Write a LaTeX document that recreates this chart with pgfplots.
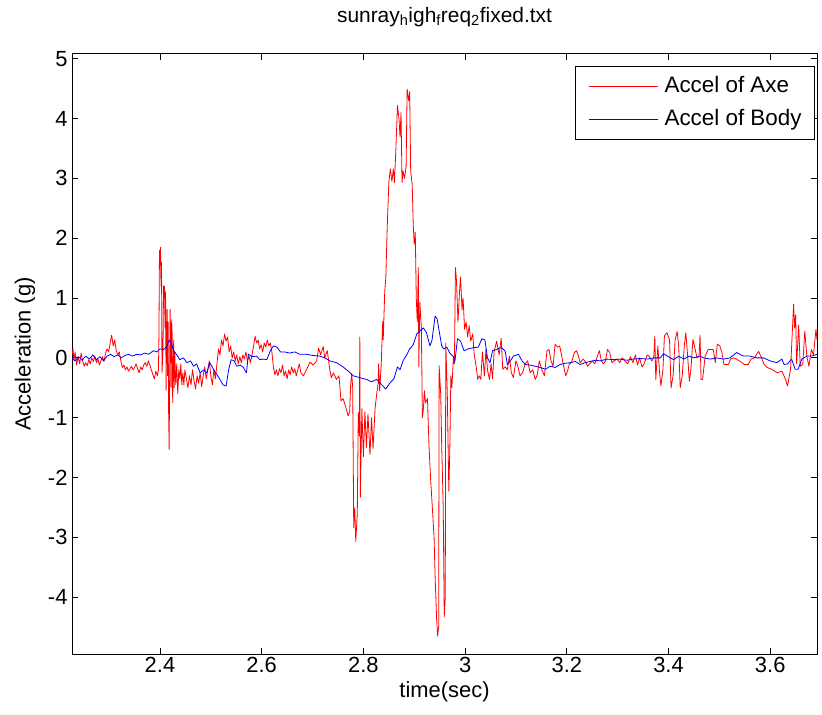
\documentclass[border=0pt]{standalone}
\usepackage{fontspec}
\setmainfont{Liberation Sans}
\usepackage{pgfplots}
\pgfplotsset{compat=1.18}
\begin{document}
\begin{tikzpicture}
\begin{axis}[
  scale only axis, width=745bp, height=600bp,
  xmin=2.227, xmax=3.692, ymin=-4.95, ymax=5.08,
  xtick={2.4,2.6,2.8,3,3.2,3.4,3.6},
  xticklabels={2.4,2.6,2.8,3,3.2,3.4,3.6},
  ytick={-4,-3,-2,-1,0,1,2,3,4,5},
  yticklabels={-4,-3,-2,-1,0,1,2,3,4,5},
  tick align=inside, major tick length=6bp,
  every tick/.style={black, line width=0.8bp},
  axis line style={line width=1bp},
  ticklabel style={font=\fontsize{22}{26}\selectfont},
  yticklabel style={xshift=-1bp},
  label style={font=\fontsize{22}{26}\selectfont},
  xlabel style={at={(rel axis cs:0.5,0)}, anchor=center, yshift=-38bp},
  ylabel style={at={(rel axis cs:0,0.5)}, anchor=center, yshift=47bp},
  title style={font=\fontsize{21}{25}\selectfont, at={(rel axis cs:0.5,1)}, anchor=center, yshift=31bp},
  title={sunray\textsubscript{h}igh\textsubscript{f}req\textsubscript{2}fixed.txt},
  xlabel={time(sec)}, ylabel={Acceleration (g)},
  legend style={at={(1,1)}, anchor=north east, xshift=-2bp, yshift=-12bp,
    font=\fontsize{22.5}{26}\selectfont, draw=black, line width=0.8bp,
    nodes={inner sep=0pt, text height=16bp, text depth=4bp},
    inner xsep=13bp, inner ysep=10bp, row sep=13bp, column sep=6bp},
  legend cell align=left,
  legend image code/.code={\draw[#1, line width=1bp] (0bp,0bp) -- (69bp,0bp);},
]
\addplot[red, line width=0.8bp, line join=round] coordinates {
(2.227,0.05)(2.229,0.15)(2.231,-0.05)(2.233,0.10)(2.236,-0.12)(2.239,0.02)(2.242,-0.10)(2.245,0.08)(2.248,-0.05)(2.251,-0.14)(2.254,-0.08)(2.257,-0.13)(2.260,-0.03)(2.263,-0.10)(2.266,0.00)(2.269,-0.06)(2.272,0.03)(2.275,-0.08)(2.278,-0.02)(2.281,-0.12)(2.284,-0.04)(2.287,0.02)(2.290,-0.06)(2.293,0.08)(2.296,0.15)(2.299,0.10)(2.302,0.25)(2.305,0.38)(2.308,0.20)(2.311,0.30)(2.314,0.12)(2.317,0.05)(2.320,0.10)(2.323,-0.05)(2.326,-0.16)(2.329,-0.12)(2.332,-0.20)(2.335,-0.15)(2.338,-0.22)(2.341,-0.18)(2.344,-0.14)(2.347,-0.20)(2.350,-0.16)(2.353,-0.10)(2.356,-0.18)(2.359,-0.25)(2.362,-0.15)(2.365,-0.20)(2.368,-0.12)(2.371,-0.08)(2.374,-0.14)(2.377,-0.05)(2.380,-0.12)(2.383,-0.20)(2.386,-0.28)(2.389,-0.35)(2.392,-0.22)(2.395,-0.30)(2.397,-0.20)(2.398,0.4)(2.399,1.80)(2.400,1.55)(2.401,1.85)(2.402,1.2)(2.403,1.6)(2.404,-0.25)(2.405,-0.05)(2.406,0.2)(2.407,1.2)(2.408,1.0)(2.409,1.2)(2.410,0.5)(2.411,1.1)(2.412,-0.55)(2.413,0.3)(2.414,0.81)(2.415,-0.3)(2.416,0.6)(2.417,-0.9)(2.418,-1.53)(2.419,-0.4)(2.420,0.81)(2.421,0.3)(2.422,-0.5)(2.423,0.64)(2.424,0.4)(2.425,-0.75)(2.426,-0.2)(2.427,0.3)(2.428,-0.5)(2.429,0.1)(2.431,-0.45)(2.433,-0.1)(2.435,-0.6)(2.437,-0.2)(2.439,-0.35)(2.441,-0.1)(2.443,-0.45)(2.445,-0.25)(2.447,-0.45)(2.449,-0.2)(2.452,-0.35)(2.455,-0.5)(2.458,-0.3)(2.461,-0.45)(2.464,-0.2)(2.467,-0.38)(2.470,-0.52)(2.473,-0.3)(2.476,-0.42)(2.479,-0.25)(2.482,-0.48)(2.485,-0.3)(2.488,-0.15)(2.491,-0.35)(2.494,-0.2)(2.497,-0.05)(2.500,-0.3)(2.503,-0.45)(2.506,-0.2)(2.509,-0.35)(2.512,-0.1)(2.515,0.15)(2.518,0.05)(2.521,0.3)(2.524,0.2)(2.527,0.4)(2.530,0.28)(2.533,0.35)(2.536,0.1)(2.539,0.2)(2.542,0.0)(2.545,0.1)(2.548,-0.05)(2.551,0.05)(2.554,-0.1)(2.557,0.02)(2.560,-0.08)(2.563,0.05)(2.566,-0.02)(2.569,0.1)(2.572,-0.05)(2.575,0.03)(2.578,-0.08)(2.581,0.05)(2.584,0.2)(2.587,0.36)(2.590,0.25)(2.593,0.3)(2.596,0.15)(2.599,0.22)(2.602,0.1)(2.605,0.25)(2.608,0.18)(2.611,0.3)(2.614,0.2)(2.617,0.25)(2.620,0.1)(2.623,-0.15)(2.626,-0.28)(2.629,-0.2)(2.632,-0.3)(2.635,-0.18)(2.638,-0.25)(2.641,-0.12)(2.644,-0.3)(2.647,-0.22)(2.650,-0.35)(2.653,-0.2)(2.656,-0.28)(2.659,-0.15)(2.662,-0.25)(2.665,-0.18)(2.668,-0.3)(2.671,-0.2)(2.674,-0.1)(2.677,-0.25)(2.682,-0.30)(2.688,-0.2)(2.695,-0.07)(2.701,-0.12)(2.708,-0.05)(2.712,0.16)(2.716,0.05)(2.721,0.19)(2.724,0.0)(2.729,0.12)(2.734,-0.2)(2.737,-0.33)(2.741,-0.25)(2.747,-0.36)(2.752,-0.3)(2.756,-0.72)(2.760,-0.68)(2.765,-0.81)(2.770,-0.97)(2.773,-0.9)(2.775,-0.45)(2.777,-0.26)(2.779,-0.5)(2.781,-2.84)(2.783,-2.5)(2.785,-3.07)(2.788,-2.6)(2.790,-0.91)(2.792,-1.3)(2.793,0.35)(2.794,-2.33)(2.797,-0.85)(2.800,-1.65)(2.803,-0.9)(2.806,-1.5)(2.809,-0.94)(2.813,-1.62)(2.816,-1.0)(2.819,-1.52)(2.823,-0.84)(2.826,-0.62)(2.829,-0.42)(2.830,-0.1)(2.832,-0.55)(2.835,-0.13)(2.838,0.61)(2.839,0.3)(2.842,1.12)(2.844,1.32)(2.847,2.22)(2.850,2.93)(2.853,3.16)(2.856,2.95)(2.859,3.16)(2.861,2.93)(2.864,3.51)(2.867,4.22)(2.870,4.0)(2.872,3.70)(2.874,4.1)(2.876,2.93)(2.878,3.12)(2.881,3.0)(2.884,3.2)(2.886,4.49)(2.889,4.3)(2.891,4.45)(2.893,3.12)(2.896,2.9)(2.898,2.22)(2.900,1.9)(2.902,2.1)(2.904,1.0)(2.906,0.6)(2.908,1.51)(2.909,-0.15)(2.911,0.93)(2.914,0.5)(2.916,-1.0)(2.918,-0.85)(2.920,-0.55)(2.922,-0.75)(2.926,-0.68)(2.929,-1.46)(2.932,-2.0)(2.935,-2.42)(2.939,-3.0)(2.941,-3.65)(2.944,-4.36)(2.946,-4.65)(2.948,-4.5)(2.949,-0.13)(2.952,-0.6)(2.954,-1.46)(2.957,-2.5)(2.959,-4.33)(2.961,-4.0)(2.962,0.25)(2.965,-0.6)(2.968,-2.23)(2.970,-1.5)(2.972,-0.3)(2.974,-0.5)(2.977,0.0)(2.979,-0.1)(2.981,1.51)(2.983,1.3)(2.986,0.6)(2.989,1.1)(2.991,1.35)(2.994,0.8)(2.996,1.0)(2.999,0.48)(3.002,0.6)(3.005,0.35)(3.008,0.54)(3.011,0.28)(3.015,0.4)(3.018,0.05)(3.021,-0.1)(3.025,-0.36)(3.028,-0.3)(3.031,-0.36)(3.034,0.1)(3.038,-0.3)(3.041,0.15)(3.044,-0.2)(3.048,-0.36)(3.051,-0.1)(3.054,-0.35)(3.057,0.1)(3.062,0.28)(3.067,0.05)
(3.071,0.33)(3.074,-0.19)(3.079,-0.15)(3.083,-0.2)(3.087,0.03)(3.091,-0.25)(3.095,-0.33)(3.100,-0.05)(3.104,-0.15)(3.108,-0.3)(3.113,-0.25)(3.118,-0.1)(3.123,-0.05)(3.128,-0.25)(3.133,-0.2)(3.138,-0.36)(3.142,-0.28)(3.146,-0.05)(3.151,-0.2)(3.156,-0.3)(3.161,0.12)(3.165,0.14)(3.169,-0.05)(3.173,-0.14)(3.177,0.23)(3.182,0.18)(3.186,0.2)(3.190,0.03)(3.194,-0.15)(3.198,-0.3)(3.202,-0.2)(3.205,-0.1)(3.209,-0.08)(3.215,0.09)(3.219,0.12)(3.223,0.03)(3.226,-0.08)(3.232,-0.02)(3.236,-0.06)(3.241,-0.14)(3.245,-0.1)(3.250,-0.05)(3.255,-0.1)(3.261,0.05)(3.264,0.12)(3.268,-0.05)(3.272,-0.1)(3.276,-0.05)(3.280,0.14)(3.284,0.1)(3.289,-0.08)(3.293,-0.05)(3.299,-0.02)(3.304,-0.08)(3.309,0.0)(3.314,-0.05)(3.320,-0.1)(3.325,0.02)(3.330,-0.08)(3.335,0.05)(3.339,-0.12)(3.343,0.0)(3.348,-0.15)(3.352,-0.1)(3.358,0.05)(3.362,0.03)(3.367,-0.05)(3.371,0.0)(3.373,0.36)(3.375,-0.36)(3.379,0.2)(3.382,-0.2)(3.385,-0.47)(3.389,-0.2)(3.392,0.37)(3.397,0.42)(3.402,0.3)(3.405,-0.5)(3.409,-0.3)(3.413,0.3)(3.417,0.44)(3.420,0.2)(3.423,-0.5)(3.427,-0.3)(3.431,0.2)(3.434,0.42)(3.437,0.1)(3.441,-0.39)(3.444,-0.2)(3.448,0.31)(3.451,0.2)(3.456,0.0)(3.460,0.03)(3.462,0.38)(3.464,-0.36)(3.467,-0.36)(3.472,0.03)(3.478,0.14)(3.488,0.14)(3.492,-0.08)(3.496,0.23)(3.501,0.2)(3.505,0.09)(3.509,-0.11)(3.518,-0.11)(3.522,-0.02)(3.528,0.0)(3.534,-0.02)(3.541,-0.06)(3.549,-0.11)(3.557,-0.11)(3.562,-0.02)(3.569,0.0)(3.577,0.11)(3.583,0.0)(3.588,-0.11)(3.594,-0.16)(3.603,-0.19)(3.614,-0.25)(3.623,-0.22)(3.630,-0.36)(3.634,-0.47)(3.640,-0.19)(3.646,0.9)(3.648,0.5)(3.650,0.72)(3.652,-0.1)(3.656,0.55)(3.659,-0.14)(3.664,-0.11)(3.668,0.45)(3.672,0.03)(3.676,-0.14)(3.681,0.14)(3.685,0.05)(3.690,0.48)(3.692,0.3)
};
\addlegendentry{Accel of Axe}
\addplot[blue, line width=0.8bp, line join=round] coordinates {
(2.227,0.0)(2.233,-0.05)(2.240,0.02)(2.247,-0.04)(2.254,0.03)(2.261,-0.02)(2.268,0.05)(2.275,-0.03)(2.282,0.02)(2.289,-0.05)(2.296,0.03)(2.303,0.06)(2.310,0.02)(2.317,0.05)(2.324,0.0)(2.331,0.04)(2.338,0.06)(2.346,0.03)(2.354,0.06)(2.362,0.05)(2.370,0.08)(2.378,0.06)(2.387,0.12)(2.394,0.1)(2.400,0.15)(2.407,0.14)(2.413,0.18)(2.418,0.3)(2.422,0.25)(2.427,0.12)(2.433,0.05)(2.439,-0.03)(2.446,0.0)(2.453,-0.08)(2.460,-0.05)(2.466,-0.14)(2.472,-0.1)(2.479,-0.25)(2.486,-0.2)(2.492,-0.25)(2.498,-0.08)(2.505,-0.19)(2.512,-0.28)(2.518,-0.36)(2.524,-0.45)(2.530,-0.47)(2.535,-0.2)(2.540,-0.03)(2.546,-0.05)(2.551,-0.14)(2.558,-0.12)(2.564,-0.16)(2.570,-0.25)(2.574,0.06)(2.582,0.02)(2.590,0.03)(2.596,-0.03)(2.603,-0.02)(2.610,-0.03)(2.617,0.12)(2.623,0.2)(2.630,0.18)(2.637,0.1)(2.645,0.1)(2.655,0.08)(2.665,0.1)(2.675,0.06)(2.688,0.06)(2.701,0.04)(2.714,0.03)(2.724,0.0)(2.734,-0.05)(2.747,-0.08)(2.760,-0.15)(2.770,-0.22)(2.780,-0.3)(2.793,-0.33)(2.806,-0.36)(2.816,-0.4)(2.826,-0.36)(2.836,-0.45)(2.844,-0.52)(2.852,-0.42)(2.860,-0.35)(2.867,-0.15)(2.872,-0.2)(2.878,-0.05)(2.885,0.05)(2.891,0.15)(2.898,0.22)(2.905,0.4)(2.911,0.45)(2.918,0.5)(2.924,0.42)(2.931,0.2)(2.935,0.3)(2.941,0.7)(2.945,0.65)(2.949,0.45)(2.954,0.2)(2.958,0.15)(2.964,0.18)(2.970,0.08)(2.977,0.02)(2.980,-0.06)(2.985,0.32)(2.991,0.28)(2.998,0.12)(3.006,0.15)(3.016,0.17)(3.026,0.18)(3.033,0.32)(3.039,0.3)(3.044,0.0)(3.049,-0.08)(3.054,0.12)(3.062,0.14)(3.069,0.17)(3.072,0.17)(3.079,0.11)(3.083,-0.11)(3.089,-0.05)(3.095,0.03)(3.105,0.06)(3.112,-0.05)(3.118,-0.11)(3.128,-0.12)(3.138,-0.14)(3.148,-0.16)(3.158,-0.19)(3.167,-0.14)(3.177,-0.16)(3.187,-0.11)(3.197,-0.09)(3.207,-0.08)(3.217,-0.06)(3.226,-0.11)(3.236,-0.08)(3.246,-0.06)(3.256,-0.04)(3.266,-0.05)(3.279,-0.02)(3.292,-0.03)(3.305,-0.02)(3.318,-0.04)(3.331,-0.02)(3.344,-0.01)(3.358,-0.02)(3.371,0.0)(3.384,0.0)(3.390,0.07)(3.400,0.02)(3.410,-0.03)(3.420,0.03)(3.430,-0.02)(3.440,0.03)(3.450,0.0)(3.462,0.03)(3.469,0.0)(3.482,-0.02)(3.495,0.0)(3.508,-0.02)(3.521,0.0)(3.534,0.09)(3.547,0.03)(3.560,0.03)(3.574,0.0)(3.587,0.0)(3.600,-0.05)(3.613,-0.08)(3.623,-0.02)(3.627,-0.11)(3.634,-0.1)(3.642,-0.02)(3.649,-0.19)(3.655,-0.19)(3.662,-0.02)(3.672,0.03)(3.682,0.03)(3.692,0.06)
};
\addlegendentry{Accel of Body}
\end{axis}
\pgfresetboundingbox
\path[use as bounding box] (current axis.south west) ++(-72bp,-61bp) rectangle ++(822bp,715bp);
\end{tikzpicture}
\end{document}
